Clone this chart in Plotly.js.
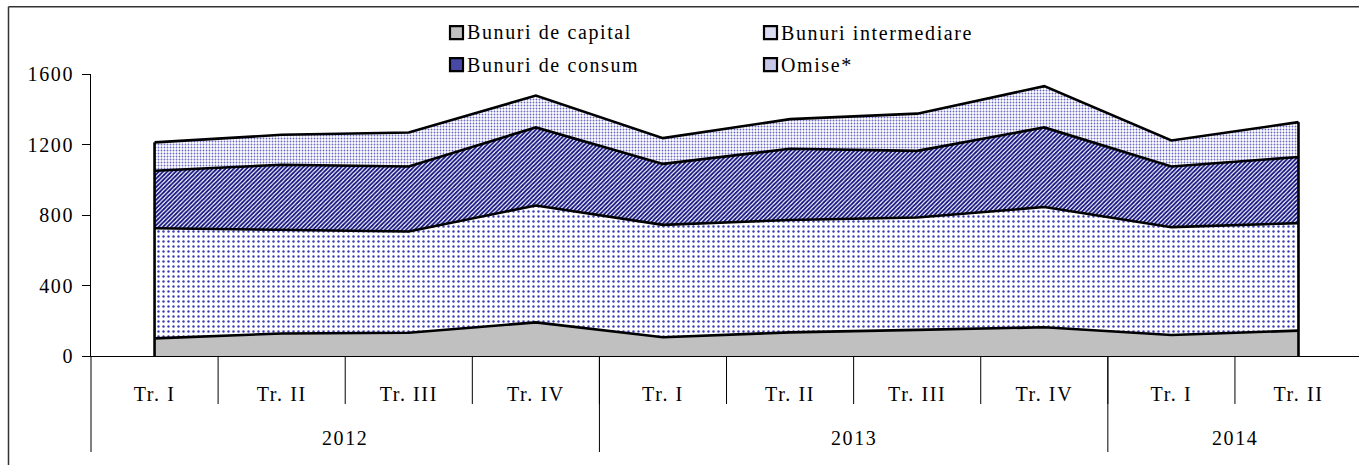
<!DOCTYPE html>
<html>
<head>
<meta charset="utf-8">
<script src="https://cdn.plot.ly/plotly-3.0.1.min.js"></script>
<style>
html,body{margin:0;padding:0;background:#fff;}
#chart{width:1359px;height:465px;}
text{letter-spacing:1.6px;}
</style>
</head>
<body>
<div id="chart"></div>
<script>
// ---- data ----
const years = ['2012','2012','2012','2012','2013','2013','2013','2013','2014','2014'];
const quarters = ['Tr. I','Tr. II','Tr. III','Tr. IV','Tr. I','Tr. II','Tr. III','Tr. IV','Tr. I','Tr. II'];
const capital = [100, 128, 132, 191, 106, 134, 148, 163, 119, 144];
const intermediare = [625, 588, 574, 663, 638, 638, 638, 682, 612, 610];
const consum = [326, 369, 369, 443, 346, 404, 378, 452, 344, 375];
const omise = [161, 170, 193, 181, 146, 168, 211, 234, 148, 198];
const seriesNames = ['Bunuri de capital', 'Bunuri intermediare', 'Bunuri de consum', 'Omise*'];
const yTicks = [0, 400, 800, 1200, 1600];

const FONT = 'Liberation Serif';
const n = years.length;
const idx = years.map((_, i) => i);
const xRange = [-0.5, 9.476];
const lineStyle = {color: '#000', width: 2.6};

function area(name, y, fillcolor, pattern) {
  const t = {
    type: 'scatter', mode: 'lines', name: name, x: idx, y: y,
    stackgroup: 'one', line: lineStyle, fillcolor: fillcolor,
    showlegend: false, hoverinfo: 'skip'
  };
  if (pattern) t.fillpattern = pattern;
  return t;
}

const traces = [
  area(seriesNames[0], capital, '#c0c0c0'),
  area(seriesNames[1], intermediare, '#ffffff', {shape: '.', fgcolor: '#3c3cb4', bgcolor: '#ffffff', size: 5, solidity: 0.18}),
  area(seriesNames[2], consum, '#ffffff', {shape: '/', fgcolor: '#10107f', bgcolor: '#ffffff', size: 3, solidity: 0.6}),
  area(seriesNames[3], omise, '#ffffff', {shape: '.', fgcolor: '#6a6ac4', bgcolor: '#ffffff', size: 3, solidity: 0.3})
];

// vertical edges of the stacked area at first and last category
const totals = capital.map((v, i) => v + intermediare[i] + consum[i] + omise[i]);
[0, n - 1].forEach(i => {
  traces.push({
    type: 'scatter', mode: 'lines', showlegend: false, hoverinfo: 'skip',
    x: [idx[i], idx[i]], y: [0, totals[i]], line: lineStyle
  });
});

// plot geometry helpers (paper coords)
const L = 91, W = 1268, T = 74.3, H = 281.7;
const px = v => (v - L) / W;
const py = v => (T + H - v) / H;
const dataToPaper = v => (v - xRange[0]) / (xRange[1] - xRange[0]);
const onePx = 1 / W;

const shapes = [];
const annotations = [];

// legend (drawn manually as 2x2 grid)
const legendColors = ['#c0c0c0', '#dadaf0', '#4848a6', '#c6c6e6'];
const legendPos = [
  {bx: 450, ty: 33},
  {bx: 764, ty: 33},
  {bx: 450, ty: 65},
  {bx: 764, ty: 65}
];
legendPos.forEach((p, i) => {
  shapes.push({
    type: 'rect', xref: 'paper', yref: 'paper',
    x0: px(p.bx), x1: px(p.bx + 13), y0: py(p.ty + 6.5), y1: py(p.ty - 6.5),
    fillcolor: legendColors[i], line: {color: '#000', width: 2.2}
  });
  annotations.push({
    xref: 'paper', yref: 'paper', x: px(p.bx + 15), y: py(p.ty),
    xanchor: 'left', yanchor: 'middle', showarrow: false,
    text: seriesNames[i], font: {family: FONT, size: 20, color: '#000'}
  });
});

// quarter boundary ticks
for (let i = 1; i < n; i++) {
  const d = dataToPaper(i - 0.5);
  shapes.push({
    type: 'line', xref: 'paper', yref: 'paper', x0: d, x1: d,
    y0: 0, y1: py(404), line: {color: '#000', width: 1}
  });
}

// year groups: labels and dividers
const groups = [];
years.forEach((yv, i) => {
  if (!groups.length || groups[groups.length - 1].year !== yv) groups.push({year: yv, start: i, end: i});
  else groups[groups.length - 1].end = i;
});
groups.forEach(g => {
  annotations.push({
    xref: 'paper', yref: 'paper', x: dataToPaper((g.start + g.end) / 2), y: py(438),
    xanchor: 'center', yanchor: 'middle', showarrow: false,
    text: g.year, font: {family: FONT, size: 20, color: '#000'}
  });
  const d = dataToPaper(g.start - 0.5);
  shapes.push({
    type: 'rect', xref: 'paper', yref: 'paper', x0: d - onePx / 2, x1: d + onePx / 2,
    y0: 0, y1: py(452), fillcolor: '#000', line: {width: 0}
  });
});

// outer frame (left and top edges visible in the picture)
shapes.push({
  type: 'line', xref: 'paper', yref: 'paper',
  x0: px(8.5), x1: px(8.5), y0: py(7), y1: py(470),
  line: {color: '#333', width: 1.5}
});
shapes.push({
  type: 'line', xref: 'paper', yref: 'paper',
  x0: px(8.5), x1: px(1365), y0: py(7), y1: py(7),
  line: {color: '#333', width: 1.5}
});

const layout = {
  width: 1359, height: 465,
  margin: {l: L, r: 0, t: 74, b: 109, pad: 0},
  paper_bgcolor: '#fff', plot_bgcolor: '#fff',
  font: {family: FONT, size: 20, color: '#000'},
  showlegend: false,
  xaxis: {
    range: xRange,
    tickmode: 'array', tickvals: idx, ticktext: quarters,
    showgrid: false, zeroline: false,
    showline: true, linecolor: '#000', linewidth: 1,
    ticks: '',
    ticklabelstandoff: 20,
    tickfont: {family: FONT, size: 20, color: '#000'}
  },
  yaxis: {
    range: [0, 1600], tickvals: yTicks, ticktext: yTicks.map(String),
    showgrid: false, zeroline: false,
    showline: true, linecolor: '#000', linewidth: 1,
    ticks: 'outside', ticklen: 8, tickcolor: '#000', tickwidth: 1,
    ticklabelstandoff: 4,
    tickfont: {family: FONT, size: 20, color: '#000'}
  },
  shapes: shapes,
  annotations: annotations
};

Plotly.newPlot('chart', traces, layout, {displayModeBar: false, staticPlot: true});
</script>
</body>
</html>
